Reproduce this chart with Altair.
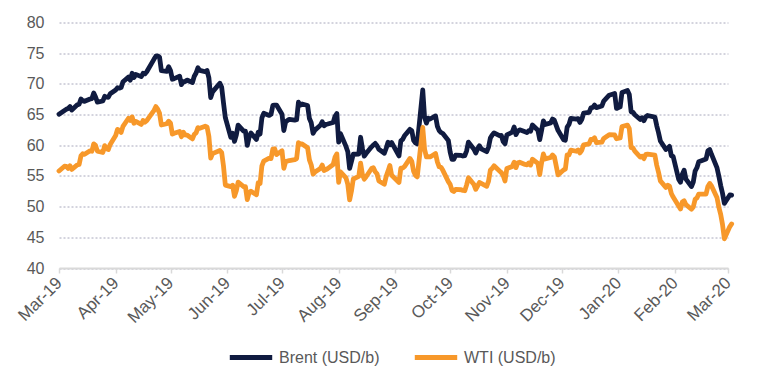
import altair as alt
import pandas as pd

# Trading dates (Mar-2019 .. Mar-2020)
dates = [
    # Mar-19
    "2019-03-01", "2019-03-04", "2019-03-05", "2019-03-06", "2019-03-07", "2019-03-08",
    "2019-03-11", "2019-03-12", "2019-03-13", "2019-03-14", "2019-03-15",
    "2019-03-18", "2019-03-19", "2019-03-20", "2019-03-21", "2019-03-22",
    "2019-03-25", "2019-03-26", "2019-03-27", "2019-03-28", "2019-03-29",
    # Apr-19
    "2019-04-01", "2019-04-02", "2019-04-03", "2019-04-04", "2019-04-05",
    "2019-04-08", "2019-04-09", "2019-04-10", "2019-04-11", "2019-04-12",
    "2019-04-15", "2019-04-16", "2019-04-17", "2019-04-18",
    "2019-04-22", "2019-04-23", "2019-04-24", "2019-04-25", "2019-04-26",
    "2019-04-29", "2019-04-30",
    # May-19
    "2019-05-01", "2019-05-02", "2019-05-03",
    "2019-05-06", "2019-05-07", "2019-05-08", "2019-05-09", "2019-05-10",
    "2019-05-13", "2019-05-14", "2019-05-15", "2019-05-16", "2019-05-17",
    "2019-05-20", "2019-05-21", "2019-05-22", "2019-05-23", "2019-05-24",
    "2019-05-28", "2019-05-29", "2019-05-30", "2019-05-31",
    # Jun-19
    "2019-06-03", "2019-06-04", "2019-06-05", "2019-06-06", "2019-06-07",
    "2019-06-10", "2019-06-11", "2019-06-12", "2019-06-13", "2019-06-14",
    "2019-06-17", "2019-06-18", "2019-06-19", "2019-06-20", "2019-06-21",
    "2019-06-24", "2019-06-25", "2019-06-26", "2019-06-27", "2019-06-28",
    # Jul-19
    "2019-07-01", "2019-07-02", "2019-07-03", "2019-07-05",
    "2019-07-08", "2019-07-09", "2019-07-10", "2019-07-11", "2019-07-12",
    "2019-07-15", "2019-07-16", "2019-07-17", "2019-07-18", "2019-07-19",
    "2019-07-22", "2019-07-23", "2019-07-24", "2019-07-25", "2019-07-26",
    "2019-07-29", "2019-07-30", "2019-07-31",
    # Aug-19
    "2019-08-01", "2019-08-02",
    "2019-08-05", "2019-08-06", "2019-08-07", "2019-08-08", "2019-08-09",
    "2019-08-12", "2019-08-13", "2019-08-14", "2019-08-15", "2019-08-16",
    "2019-08-19", "2019-08-20", "2019-08-21", "2019-08-22", "2019-08-23",
    "2019-08-26", "2019-08-27", "2019-08-28", "2019-08-29", "2019-08-30",
    # Sep-19
    "2019-09-03", "2019-09-04", "2019-09-05", "2019-09-06",
    "2019-09-09", "2019-09-10", "2019-09-11", "2019-09-12", "2019-09-13",
    "2019-09-16", "2019-09-17", "2019-09-18", "2019-09-19", "2019-09-20",
    "2019-09-23", "2019-09-24", "2019-09-25", "2019-09-26", "2019-09-27",
    "2019-09-30",
    # Oct-19
    "2019-10-01", "2019-10-02", "2019-10-03", "2019-10-04",
    "2019-10-07", "2019-10-08", "2019-10-09", "2019-10-10", "2019-10-11",
    "2019-10-14", "2019-10-15", "2019-10-16", "2019-10-17", "2019-10-18",
    "2019-10-21", "2019-10-22", "2019-10-23", "2019-10-24", "2019-10-25",
    "2019-10-28", "2019-10-29", "2019-10-30", "2019-10-31",
    # Nov-19
    "2019-11-01",
    "2019-11-04", "2019-11-05", "2019-11-06", "2019-11-07", "2019-11-08",
    "2019-11-11", "2019-11-12", "2019-11-13", "2019-11-14", "2019-11-15",
    "2019-11-18", "2019-11-19", "2019-11-20", "2019-11-21", "2019-11-22",
    "2019-11-25", "2019-11-26", "2019-11-27", "2019-11-29",
    # Dec-19
    "2019-12-02", "2019-12-03", "2019-12-04", "2019-12-05", "2019-12-06",
    "2019-12-09", "2019-12-10", "2019-12-11", "2019-12-12", "2019-12-13",
    "2019-12-16", "2019-12-17", "2019-12-18", "2019-12-19", "2019-12-20",
    "2019-12-23", "2019-12-24", "2019-12-27", "2019-12-30", "2019-12-31",
    # Jan-20
    "2020-01-02", "2020-01-03",
    "2020-01-06", "2020-01-07", "2020-01-08", "2020-01-09", "2020-01-10",
    "2020-01-13", "2020-01-14", "2020-01-15", "2020-01-16", "2020-01-17",
    "2020-01-21", "2020-01-22", "2020-01-23", "2020-01-24",
    "2020-01-27", "2020-01-28", "2020-01-29", "2020-01-30", "2020-01-31",
    # Feb-20
    "2020-02-03", "2020-02-04", "2020-02-05", "2020-02-06", "2020-02-07",
    "2020-02-10", "2020-02-11", "2020-02-12", "2020-02-13", "2020-02-14",
    "2020-02-18", "2020-02-19", "2020-02-20", "2020-02-21",
    "2020-02-24", "2020-02-25", "2020-02-26", "2020-02-27", "2020-02-28",
    # Mar-20
    "2020-03-02", "2020-03-03",
]

brent = [
    # Mar-19
    65.07, 65.67, 65.86, 65.99, 66.30, 65.74,
    66.58, 66.67, 67.55, 67.23, 67.16,
    67.54, 67.61, 68.50, 67.86, 67.03,
    67.21, 67.97, 67.83, 67.82, 68.39,
    # Apr-19
    69.01, 69.37, 69.31, 69.40, 70.34,
    71.10, 70.61, 71.73, 71.02, 71.55,
    71.18, 71.72, 71.62, 71.97,
    74.04, 74.51, 74.57, 74.35, 72.15,
    72.04, 72.80,
    # May-19
    72.18, 70.75, 70.85,
    71.24, 69.88, 70.37, 70.39, 70.62,
    70.23, 71.24, 71.77, 72.62, 72.21,
    71.97, 72.18, 70.99, 67.76, 68.69,
    70.11, 69.45, 66.87, 64.49,
    # Jun-19
    61.28, 61.97, 60.63, 61.67, 63.29,
    62.29, 62.29, 59.97, 61.31, 62.01,
    60.94, 62.14, 61.82, 64.45, 65.20,
    64.86, 65.05, 66.49, 66.55, 66.55,
    # Jul-19
    65.06, 62.40, 63.82, 64.23,
    64.11, 64.16, 67.01, 66.52, 66.72,
    66.48, 64.35, 63.66, 61.93, 62.47,
    63.26, 63.83, 63.18, 63.39, 63.46,
    63.71, 64.72, 65.17,
    # Aug-19
    60.50, 61.89,
    59.81, 58.94, 56.23, 57.38, 58.53,
    58.57, 61.30, 59.48, 58.23, 58.64,
    59.74, 60.03, 60.30, 59.92, 59.34,
    58.70, 59.51, 60.49, 60.08, 60.43,
    # Sep-19
    58.26, 60.70, 60.95, 61.54,
    62.59, 62.38, 60.81, 60.38, 60.22,
    69.02, 64.55, 63.60, 64.40, 64.28,
    64.77, 63.10, 62.39, 62.08, 61.91,
    60.78,
    # Oct-19
    58.89, 57.69, 57.71, 58.37,
    58.35, 58.24, 58.32, 59.10, 60.51,
    59.35, 58.74, 59.42, 59.91, 59.42,
    58.96, 59.70, 61.17, 61.67, 62.02,
    61.57, 61.59, 60.61, 60.23,
    # Nov-19
    61.69,
    62.13, 62.96, 61.74, 62.29, 62.51,
    62.18, 62.06, 62.37, 62.28, 63.30,
    62.44, 60.91, 62.40, 63.97, 63.39,
    63.65, 64.27, 64.06, 62.43,
    # Dec-19
    60.92, 60.82, 62.96, 63.39, 64.39,
    64.25, 64.34, 63.72, 64.20, 65.22,
    65.34, 66.10, 66.17, 66.54, 66.14,
    66.39, 67.20, 68.16, 68.44, 66.00,
    # Jan-20
    66.25, 68.60,
    68.91, 68.27, 65.44, 65.37, 64.98,
    64.20, 64.49, 64.00, 64.62, 64.85,
    64.59, 63.21, 62.04, 60.69,
    59.32, 59.51, 59.81, 58.29, 58.16,
    # Feb-20
    54.45, 53.96, 55.28, 55.93, 54.47,
    53.27, 54.01, 55.79, 56.34, 57.32,
    57.75, 59.12, 59.31, 58.50,
    56.30, 54.95, 53.43, 52.18, 50.52,
    # Mar-20
    51.90, 51.86,
]

wti = [
    # Mar-19
    55.80, 56.59, 56.56, 56.22, 56.66, 56.07,
    56.79, 56.87, 58.26, 58.61, 58.52,
    59.09, 59.03, 60.23, 59.98, 59.04,
    58.82, 59.94, 59.41, 59.30, 60.14,
    # Apr-19
    61.59, 62.58, 62.46, 62.10, 63.08,
    64.40, 64.05, 64.61, 63.58, 63.89,
    63.40, 64.05, 63.76, 64.00,
    65.70, 66.30, 65.89, 65.21, 63.30,
    63.50, 63.91,
    # May-19
    63.60, 61.81, 61.94,
    62.25, 61.40, 62.12, 61.70, 61.66,
    61.04, 61.78, 62.02, 62.87, 62.76,
    63.10, 62.99, 61.42, 57.91, 58.63,
    59.14, 58.81, 56.59, 53.50,
    # Jun-19
    53.25, 53.48, 51.68, 52.59, 53.99,
    53.26, 53.27, 51.14, 52.28, 52.51,
    51.93, 53.90, 53.76, 56.65, 57.43,
    57.90, 57.83, 59.38, 59.43, 58.47,
    # Jul-19
    59.09, 56.25, 57.34, 57.51,
    57.66, 57.83, 60.43, 60.20, 60.21,
    59.58, 57.62, 56.78, 55.30, 55.63,
    56.22, 56.77, 55.88, 56.02, 56.20,
    56.87, 58.05, 58.58,
    # Aug-19
    53.95, 55.66,
    54.69, 53.63, 51.09, 52.54, 54.50,
    54.93, 57.10, 55.23, 54.47, 54.87,
    56.21, 56.34, 55.68, 55.35, 54.17,
    53.64, 54.93, 55.78, 56.71, 55.10,
    # Sep-19
    53.94, 56.26, 56.30, 56.52,
    57.85, 57.40, 55.75, 55.09, 54.85,
    62.90, 59.34, 58.11, 58.13, 58.09,
    58.64, 57.29, 56.49, 56.41, 55.91,
    54.07,
    # Oct-19
    53.62, 52.64, 52.45, 52.81,
    52.75, 52.63, 52.59, 53.55, 54.70,
    53.59, 52.81, 53.36, 53.93, 53.78,
    53.31, 54.16, 55.97, 56.23, 56.66,
    55.81, 55.54, 55.06, 54.18,
    # Nov-19
    56.20,
    56.54, 57.23, 56.35, 57.15, 57.24,
    56.86, 56.80, 57.12, 56.77, 57.72,
    57.05, 55.21, 57.11, 58.58, 57.77,
    58.01, 58.41, 58.11, 55.17,
    # Dec-19
    55.96, 56.10, 58.43, 58.43, 59.20,
    59.02, 59.24, 58.76, 59.18, 60.07,
    60.21, 60.94, 60.93, 61.22, 60.44,
    60.52, 61.11, 61.72, 61.68, 61.06,
    # Jan-20
    61.18, 63.05,
    63.27, 62.70, 59.61, 59.56, 59.04,
    58.08, 58.23, 57.81, 58.52, 58.54,
    58.38, 56.74, 55.59, 54.19,
    53.14, 53.48, 53.33, 52.14, 51.56,
    # Feb-20
    50.11, 49.61, 50.75, 50.95, 50.32,
    49.57, 49.94, 51.17, 51.42, 52.05,
    52.05, 53.29, 53.78, 53.38,
    51.43, 49.90, 48.73, 47.09, 44.76,
    # Mar-20
    46.75, 47.18,
]

series_names = ["Brent (USD/b)", "WTI (USD/b)"]
series_colors = ["#101b40", "#f7982a"]
y_ticks = [40, 45, 50, 55, 60, 65, 70, 75, 80]
month_ticks = [(2019, m) for m in range(3, 13)] + [(2020, m) for m in range(1, 4)]

assert len(dates) == len(brent) == len(wti)

df = pd.DataFrame({"date": dates, series_names[0]: brent, series_names[1]: wti})
long = df.melt("date", var_name="series", value_name="price")

FONT = "Liberation Sans"
GREY = "#595959"

x_values = [alt.DateTime(year=y, month=m, date=1, utc=True) for y, m in month_ticks]

chart = (
    alt.Chart(long)
    .mark_line(strokeWidth=4.8, strokeJoin="round", strokeCap="round", clip=False)
    .encode(
        x=alt.X(
            "date:T",
            scale=alt.Scale(
                type="utc",
                domain=[alt.DateTime(year=2019, month=3, date=1, utc=True),
                        alt.DateTime(year=2020, month=3, date=1, utc=True)],
                nice=False,
            ),
            axis=alt.Axis(
                values=x_values,
                labelExpr="utcFormat(datum.value, '%b-%y')",
                title=None,
                grid=False,
                domainColor="#d9d9d9",
                domainWidth=2,
                tickColor="#d9d9d9",
                tickWidth=1.5,
                tickSize=5,
                labelAngle=-45,
                labelAlign="right",
                labelBaseline="middle",
                labelPadding=7,
                labelFont=FONT,
                labelFontSize=17,
                labelColor=GREY,
                labelOverlap=False,
                labelFlush=False,
            ),
        ),
        y=alt.Y(
            "price:Q",
            scale=alt.Scale(domain=[40, 80], nice=False, zero=False),
            axis=alt.Axis(
                values=y_ticks,
                title=None,
                domain=False,
                ticks=False,
                labelPadding=15,
                labelFont=FONT,
                labelFontSize=16,
                labelColor=GREY,
                gridColor="#a8a8bc",
                gridDash=[2, 2],
                gridWidth=1,
            ),
        ),
        color=alt.Color(
            "series:N",
            scale=alt.Scale(domain=series_names, range=series_colors),
            legend=alt.Legend(
                title=None,
                orient="none",
                direction="horizontal",
                legendX=168,
                legendY=311,
                symbolType="stroke",
                symbolSize=1800,
                symbolStrokeWidth=5,
                labelFont=FONT,
                labelFontSize=16,
                labelColor=GREY,
                labelOffset=4,
                columnPadding=24,
                padding=0,
            ),
        ),
    )
    .properties(
        width=669,
        height=245.5,
        autosize=alt.AutoSizeParams(type="none"),
        padding={"left": 51, "top": 14.5, "right": 30, "bottom": 113},
        background="white",
    )
    .configure_view(stroke=None)
)

chart.save("out.html", embed_options={"renderer": "svg", "actions": False})
